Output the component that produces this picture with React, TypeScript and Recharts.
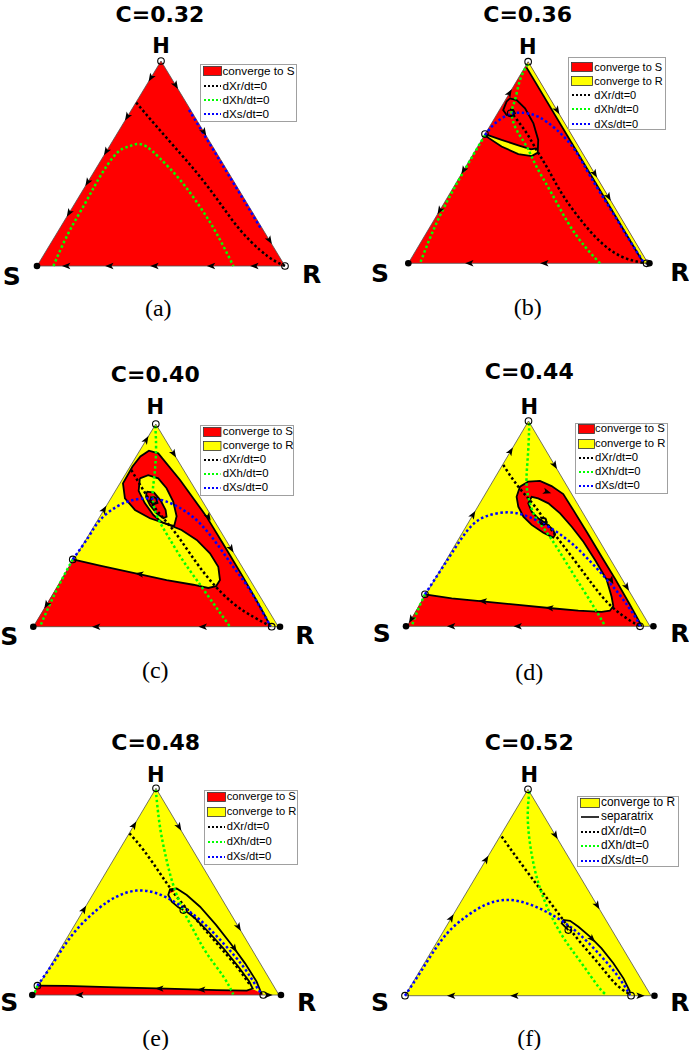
import React from 'react';
import { ComposedChart, XAxis, YAxis, Area, Line, Scatter } from 'recharts';

type P = [number, number];
// x, y, flow direction (dx, dy)
type Arrow = [number, number, number, number];

const RED = '#ff0000';
const YELLOW = '#ffff00';
const GREEN = '#00ff00';
const BLUE = '#0000ff';

// simplex in plot units: S=(0,0), R=(1,0), H=(0.5,1)
const TRIANGLE: P[] = [[0, 0], [1, 0], [0.5, 1], [0, 0]];

// ---- (a) C=0.32
const aDXr: P[] = [[0.4, 0.797], [0.483, 0.68], [0.577, 0.55], [0.657, 0.436], [0.738, 0.306], [0.819, 0.176], [0.899, 0.078], [0.953, 0.029], [1, 0]];
const aDXh: P[] = [[0.066, 0], [0.126, 0.159], [0.194, 0.306], [0.254, 0.436], [0.321, 0.55], [0.368, 0.582], [0.402, 0.595], [0.442, 0.582], [0.496, 0.525], [0.577, 0.42], [0.657, 0.289], [0.724, 0.159], [0.792, 0]];
const aDXs: P[] = [[0.613, 0.761], [0.76, 0.4685], [0.906, 0.176]];
const aArrows: Arrow[] = [
  [0.46, 0.92, -0.5, -1], [0.365, 0.73, -0.5, -1], [0.28, 0.56, -0.5, -1], [0.205, 0.41, -0.5, -1], [0.13, 0.26, -0.5, -1],
  [0.5585, 0.883, 0.5, -1], [0.6725, 0.655, 0.5, -1], [0.937, 0.127, 0.5, -1],
  [0.12, 0, -1, 0], [0.294, 0, -1, 0], [0.476, 0, -1, 0], [0.704, 0, -1, 0], [0.879, 0, -1, 0],
];
const aOpen: P[] = [[0.5, 1], [1, 0]];
const aFilled: P[] = [[0, 0]];

// ---- (b) C=0.36
const bStrip: P[] = [[0.5, 1], [1, 0], [0.982, 0], [0.493, 0.972], [0.5, 1]];
const bBand: P[] = [[0.32, 0.641], [0.389, 0.612], [0.459, 0.585], [0.512, 0.565], [0.534, 0.57], [0.54, 0.549], [0.515, 0.532], [0.459, 0.542], [0.389, 0.579], [0.327, 0.628], [0.32, 0.641]];
const bEdgeSep: P[] = [[0.493, 0.972], [0.982, 0]];
const bBandTop: P[] = [[0.32, 0.641], [0.389, 0.612], [0.459, 0.585], [0.512, 0.565], [0.534, 0.57]];
const bSpiral: P[] = [[0.32, 0.641], [0.327, 0.628], [0.389, 0.579], [0.459, 0.542], [0.515, 0.532], [0.54, 0.549], [0.542, 0.612], [0.522, 0.694], [0.487, 0.769], [0.452, 0.81], [0.424, 0.818], [0.41, 0.802], [0.396, 0.76], [0.41, 0.736], [0.431, 0.731], [0.445, 0.744], [0.438, 0.76], [0.424, 0.764]];
const bDXr: P[] = [[0.438, 0.736], [0.494, 0.645], [0.535, 0.562], [0.577, 0.479], [0.64, 0.347], [0.709, 0.231], [0.793, 0.116], [0.89, 0.033], [0.99, 0]];
const bDXh1: P[] = [[0.498, 0.988], [0.466, 0.909], [0.445, 0.81], [0.431, 0.744], [0.452, 0.661], [0.494, 0.579], [0.535, 0.479], [0.598, 0.347], [0.668, 0.198], [0.737, 0.083], [0.8, 0]];
const bDXh2: P[] = [[0.32, 0.636], [0.195, 0.38], [0.111, 0.182], [0.049, 0]];
const bDXs: P[] = [[0.32, 0.636], [0.362, 0.694], [0.417, 0.736], [0.473, 0.747], [0.542, 0.727], [0.62, 0.661], [0.695, 0.562], [0.76, 0.43], [0.846, 0.264], [0.922, 0.116], [0.98, 0.008]];
const bArrows: Arrow[] = [
  [0.4215, 0.843, 0.5, 1], [0.2315, 0.463, -0.5, -1], [0.132, 0.264, -0.5, -1],
  [0.62, 0.76, 0.5, -1], [0.777, 0.446, 0.5, -1], [0.8345, 0.331, 0.5, -1],
  [0.257, 0, -1, 0], [0.57, 0, -1, 0],
];
const bOpen: P[] = [[0.5, 1], [0.32, 0.641], [0.427, 0.744], [0.994, 0]];
const bFilled: P[] = [[0, 0], [1.006, 0]];

// ---- (c) C=0.40
const cRed: P[] = [[0, 0], [0.161, 0.332], [0.272, 0.301], [0.408, 0.266], [0.544, 0.23], [0.653, 0.207], [0.714, 0.191], [0.746, 0.2], [0.762, 0.23], [0.755, 0.296], [0.721, 0.362], [0.667, 0.428], [0.605, 0.477], [0.544, 0.507], [0.476, 0.535], [0.415, 0.576], [0.374, 0.633], [0.366, 0.707], [0.405, 0.79], [0.437, 0.84], [0.472, 0.868], [0.51, 0.855], [0.599, 0.724], [0.707, 0.543], [0.79, 0.378], [0.855, 0.247], [0.91, 0.132], [0.948, 0.049], [0.968, 0], [0, 0]];
const cHole: P[] = [[0.435, 0.732], [0.469, 0.748], [0.51, 0.732], [0.544, 0.683], [0.571, 0.617], [0.585, 0.545], [0.575, 0.497], [0.555, 0.502], [0.525, 0.515], [0.49, 0.551], [0.455, 0.61], [0.43, 0.67], [0.435, 0.732]];
const cInner: P[] = [[0.463, 0.666], [0.493, 0.661], [0.52, 0.622], [0.54, 0.576], [0.544, 0.543], [0.531, 0.535], [0.503, 0.559], [0.476, 0.6], [0.46, 0.641], [0.463, 0.666]];
const cCore: P[] = [[0.478, 0.64], [0.5, 0.635], [0.507, 0.61], [0.49, 0.603], [0.478, 0.62], [0.485, 0.632]];
const cDXr: P[] = [[0.4, 0.773], [0.449, 0.674], [0.503, 0.576], [0.571, 0.477], [0.639, 0.362], [0.721, 0.23], [0.816, 0.115], [0.898, 0.049], [0.966, 0.003]];
const cDXh1: P[] = [[0.498, 0.99], [0.501, 0.872], [0.494, 0.74], [0.487, 0.641], [0.506, 0.543], [0.551, 0.444], [0.605, 0.337], [0.667, 0.23], [0.735, 0.115], [0.803, 0]];
const cDXh2: P[] = [[0.161, 0.332], [0.095, 0.181], [0.027, 0]];
const cDXs: P[] = [[0.161, 0.332], [0.226, 0.444], [0.272, 0.526], [0.34, 0.592], [0.408, 0.625], [0.476, 0.633], [0.544, 0.617], [0.612, 0.576], [0.68, 0.51], [0.748, 0.411], [0.816, 0.296], [0.884, 0.181], [0.939, 0.066], [0.969, 0.003]];
const cArrows: Arrow[] = [
  [0.46, 0.92, 0.5, 1], [0.288, 0.576, 0.5, 1], [0.055, 0.11, -0.5, -1],
  [0.5725, 0.855, 0.5, -1], [0.714, 0.543, 0.5, -1], [0.807, 0.386, 0.5, -1],
  [0.259, 0, -1, 0], [0.694, 0, -1, 0], [0.435, 0.26, -1, 0.2],
];
const cOpen: P[] = [[0.5, 1], [0.161, 0.332], [0.49, 0.625], [0.973, 0]];
const cFilled: P[] = [[0, 0], [1.007, 0]];

// ---- (d) C=0.44
const dRed: P[] = [[0, 0], [0.074, 0.156], [0.184, 0.136], [0.321, 0.12], [0.458, 0.104], [0.595, 0.088], [0.705, 0.076], [0.801, 0.07], [0.835, 0.076], [0.849, 0.099], [0.842, 0.144], [0.822, 0.226], [0.774, 0.323], [0.726, 0.412], [0.678, 0.485], [0.63, 0.55], [0.582, 0.599], [0.54, 0.623], [0.513, 0.631], [0.499, 0.599], [0.513, 0.558], [0.54, 0.526], [0.575, 0.498], [0.602, 0.469], [0.609, 0.445], [0.602, 0.432], [0.561, 0.456], [0.513, 0.494], [0.479, 0.534], [0.458, 0.583], [0.451, 0.631], [0.465, 0.68], [0.499, 0.705], [0.547, 0.708], [0.595, 0.683], [0.643, 0.644], [0.684, 0.567], [0.743, 0.453], [0.801, 0.339], [0.859, 0.226], [0.914, 0.112], [0.952, 0.031], [0.966, 0], [0, 0]];
const dCore: P[] = [[0.548, 0.53], [0.57, 0.525], [0.575, 0.505], [0.56, 0.497], [0.548, 0.51], [0.555, 0.52]];
const dDXr: P[] = [[0.396, 0.786], [0.458, 0.68], [0.527, 0.583], [0.595, 0.469], [0.678, 0.339], [0.76, 0.209], [0.842, 0.096], [0.925, 0.023], [0.959, 0.002]];
const dDXh1: P[] = [[0.503, 0.989], [0.499, 0.859], [0.492, 0.729], [0.499, 0.631], [0.527, 0.534], [0.568, 0.469], [0.623, 0.372], [0.691, 0.242], [0.76, 0.112], [0.815, 0.002]];
const dDXh2: P[] = [[0.074, 0.156], [0.045, 0.08], [0.019, 0]];
const dDXs: P[] = [[0.074, 0.156], [0.175, 0.339], [0.25, 0.469], [0.321, 0.534], [0.417, 0.555], [0.499, 0.534], [0.582, 0.485], [0.678, 0.404], [0.774, 0.291], [0.87, 0.161], [0.938, 0.047], [0.959, 0.002]];
const dArrows: Arrow[] = [
  [0.4255, 0.851, 0.5, 1], [0.271, 0.542, 0.5, 1], [0.018, 0.036, -0.5, -1],
  [0.607, 0.786, 0.5, -1], [0.9035, 0.193, 0.5, -1],
  [0.184, 0, -1, 0], [0.458, 0, -1, 0], [0.314, 0.122, -1, 0.1], [0.588, 0.089, -1, 0.1],
  [0.575, 0.655, 1, -0.4], [0.84, 0.226, 0.45, -1],
];
const dOpen: P[] = [[0.5, 1], [0.074, 0.156], [0.561, 0.51], [0.959, 0]];
const dFilled: P[] = [[-0.004, 0], [1.014, 0]];

// ---- (e) C=0.48
const eRed: P[] = [[0, 0], [0.018, 0.045], [0.137, 0.044], [0.34, 0.037], [0.543, 0.031], [0.747, 0.024], [0.869, 0.021], [0.896, 0.027], [0.916, 0.016], [0.936, 0], [0, 0]];
const eTip: P[] = [[0.557, 0.511], [0.584, 0.515], [0.572, 0.5], [0.553, 0.492], [0.557, 0.511]];
const eSep1: P[] = [[0.018, 0.045], [0.137, 0.044], [0.34, 0.037], [0.543, 0.031], [0.747, 0.024], [0.869, 0.021], [0.893, 0.031], [0.879, 0.065], [0.835, 0.137], [0.774, 0.226], [0.713, 0.306], [0.659, 0.371], [0.625, 0.403]];
const eSep2: P[] = [[0.93, 0.003], [0.909, 0.065], [0.862, 0.153], [0.808, 0.242], [0.744, 0.339], [0.679, 0.427], [0.625, 0.484], [0.584, 0.515], [0.557, 0.511], [0.55, 0.484], [0.564, 0.452], [0.591, 0.424], [0.611, 0.411]];
const eDXr: P[] = [[0.392, 0.782], [0.449, 0.702], [0.516, 0.589], [0.584, 0.476], [0.665, 0.363], [0.747, 0.25], [0.828, 0.137], [0.882, 0.048]];
const eDXh1: P[] = [[0.499, 0.992], [0.503, 0.944], [0.516, 0.815], [0.537, 0.685], [0.564, 0.556], [0.604, 0.427], [0.652, 0.315], [0.706, 0.202], [0.774, 0.089], [0.814, 0.003]];
const eDXh2: P[] = [[0.018, 0.045], [0.003, 0]];
const eDXs: P[] = [[0.018, 0.045], [0.09, 0.169], [0.164, 0.298], [0.259, 0.411], [0.34, 0.476], [0.421, 0.505], [0.503, 0.492], [0.584, 0.444], [0.679, 0.363], [0.774, 0.25], [0.855, 0.137], [0.909, 0.04], [0.93, 0.003]];
const eArrows: Arrow[] = [
  [0.41, 0.82, 0.5, 1], [0.206, 0.412, 0.5, 1],
  [0.593, 0.815, 0.5, -1], [0.835, 0.33, 0.5, -1],
  [0.191, 0, -1, 0], [0.516, 0.031, -1, 0], [0.686, 0.026, -1, 0],
  [0.818, 0.226, 0.55, -1], [0.955, 0, 1, 0],
];
const eOpen: P[] = [[0.5, 1], [0.018, 0.045], [0.611, 0.411], [0.936, 0]];
const eFilled: P[] = [[-0.003, 0], [1.008, 0]];

// ---- (f) C=0.52
const fSep: P[] = [[0.664, 0.318], [0.637, 0.351], [0.644, 0.367], [0.671, 0.363], [0.705, 0.334], [0.752, 0.286], [0.799, 0.229], [0.847, 0.157], [0.888, 0.084], [0.915, 0.019]];
const fDXr: P[] = [[0.393, 0.771], [0.461, 0.658], [0.542, 0.528], [0.623, 0.399], [0.705, 0.27], [0.786, 0.157], [0.854, 0.06], [0.908, 0.011]];
const fDXh: P[] = [[0.505, 0.989], [0.499, 0.868], [0.508, 0.738], [0.528, 0.609], [0.556, 0.496], [0.596, 0.383], [0.65, 0.27], [0.718, 0.157], [0.786, 0.044], [0.82, 0.003]];
const fDXs: P[] = [[0, 0], [0.068, 0.124], [0.149, 0.27], [0.23, 0.367], [0.325, 0.439], [0.42, 0.464], [0.515, 0.439], [0.61, 0.383], [0.705, 0.302], [0.799, 0.189], [0.867, 0.092], [0.915, 0.003]];
const fArrows: Arrow[] = [
  [0.329, 0.658, 0.5, 1], [0.1875, 0.375, 0.5, 1],
  [0.6105, 0.779, 0.5, -1], [0.7805, 0.439, 0.5, -1],
  [0.19, 0, -1, 0], [0.447, 0, -1, 0], [0.76, 0.276, 0.8, -1], [0.955, 0, 1, 0],
];
const fOpen: P[] = [[0.5, 1], [0, 0], [0.664, 0.318], [0.919, 0]];
const fFilled: P[] = [[1.014, 0]];

type LegendKey = 'S' | 'R' | 'sep' | 'r' | 'h' | 's';
const LEGEND_ITEMS: Record<LegendKey, { label: string; color: string; kind: 'patch' | 'solid' | 'dots' }> = {
  S: { label: 'converge to S', color: RED, kind: 'patch' },
  R: { label: 'converge to R', color: YELLOW, kind: 'patch' },
  sep: { label: 'separatrix', color: '#000', kind: 'solid' },
  r: { label: 'dXr/dt=0', color: '#000', kind: 'dots' },
  h: { label: 'dXh/dt=0', color: GREEN, kind: 'dots' },
  s: { label: 'dXs/dt=0', color: BLUE, kind: 'dots' },
};

type Panel = {
  title: string;
  caption: string;
  bg: string;
  regions: { pts: P[]; color: string }[];
  seps: P[][];
  dXr: P[][];
  dXh: P[][];
  dXs: P[][];
  arrows: Arrow[];
  open: P[];
  filled: P[];
  legend: LegendKey[];
};

const PANELS: Panel[] = [
  { title: 'C=0.32', caption: '(a)', bg: RED, regions: [], seps: [], dXr: [aDXr], dXh: [aDXh], dXs: [aDXs], arrows: aArrows, open: aOpen, filled: aFilled, legend: ['S', 'r', 'h', 's'] },
  { title: 'C=0.36', caption: '(b)', bg: RED, regions: [{ pts: bStrip, color: YELLOW }, { pts: bBand, color: YELLOW }], seps: [bEdgeSep, bBandTop, bSpiral], dXr: [bDXr], dXh: [bDXh1, bDXh2], dXs: [bDXs], arrows: bArrows, open: bOpen, filled: bFilled, legend: ['S', 'R', 'r', 'h', 's'] },
  { title: 'C=0.40', caption: '(c)', bg: YELLOW, regions: [{ pts: cRed, color: RED }, { pts: cHole, color: YELLOW }, { pts: cInner, color: RED }], seps: [cRed.slice(1, -1), cHole, cInner, cCore], dXr: [cDXr], dXh: [cDXh1, cDXh2], dXs: [cDXs], arrows: cArrows, open: cOpen, filled: cFilled, legend: ['S', 'R', 'r', 'h', 's'] },
  { title: 'C=0.44', caption: '(d)', bg: YELLOW, regions: [{ pts: dRed, color: RED }], seps: [dRed.slice(1, -1), dCore], dXr: [dDXr], dXh: [dDXh1, dDXh2], dXs: [dDXs], arrows: dArrows, open: dOpen, filled: dFilled, legend: ['S', 'R', 'r', 'h', 's'] },
  { title: 'C=0.48', caption: '(e)', bg: YELLOW, regions: [{ pts: eRed, color: RED }, { pts: eTip, color: RED }], seps: [eSep1, eSep2], dXr: [eDXr], dXh: [eDXh1, eDXh2], dXs: [eDXs], arrows: eArrows, open: eOpen, filled: eFilled, legend: ['S', 'R', 'r', 'h', 's'] },
  { title: 'C=0.52', caption: '(f)', bg: YELLOW, regions: [], seps: [fSep], dXr: [fDXr], dXh: [fDXh], dXs: [fDXs], arrows: fArrows, open: fOpen, filled: fFilled, legend: ['R', 'sep', 'r', 'h', 's'] },
];

// page layout (px): chart box, triangle corners, text anchors, legend box
const BOX_W = 344;
const BOX_H = 350;
const PAD = 0.1;
const LAYOUT = [
  { box: [0, 0], sx: 37, rx: 285, base: 266, hy: 61, title: [160, 15], H: [161, 46], S: [11.7, 275.7], R: [311.7, 274.3], cap: [158.3, 308.3],
    lg: { x: 199.5, y: 64, w: 97, h: 58, first: 6.3, pitch: 14.3, font: 11.7, sw: 19, tx: 23 } },
  { box: [345, 0], sx: 408.3, rx: 648, base: 263.3, hy: 61.7, title: [527.7, 15], H: [527.7, 46.7], S: [380, 272.7], R: [680, 271.7], cap: [527.7, 307.3],
    lg: { x: 567.5, y: 56.5, w: 98.5, h: 73, first: 9.2, pitch: 14.25, font: 11, sw: 22, tx: 26.8 } },
  { box: [0, 350], sx: 33.3, rx: 278.3, base: 626.7, hy: 424, title: [155.3, 375], H: [155.3, 406.7], S: [9.2, 636], R: [305, 635], cap: [155.3, 670],
    lg: { x: 200, y: 425, w: 93.5, h: 71, first: 5.8, pitch: 14.15, font: 11.4, sw: 18.5, tx: 22.7 } },
  { box: [345, 350], sx: 407, rx: 650, base: 626.3, hy: 421, title: [529.3, 371.7], H: [529.3, 406.7], S: [381.7, 632.7], R: [680, 632.7], cap: [529.3, 671.7],
    lg: { x: 575, y: 422.5, w: 93, h: 71, first: 5.8, pitch: 14.2, font: 11.3, sw: 17, tx: 20 } },
  { box: [0, 700], sx: 33, rx: 279, base: 995, hy: 788.3, title: [155.7, 743.3], H: [155.7, 775], S: [9.2, 1001.7], R: [306.7, 1001.7], cap: [155.7, 1038.3],
    lg: { x: 204, y: 790, w: 94, h: 75, first: 6, pitch: 15, font: 11.2, sw: 19, tx: 22.7 } },
  { box: [345, 700], sx: 405, rx: 651, base: 995.7, hy: 789.3, title: [529.3, 743.3], H: [529.3, 775], S: [380, 1001.7], R: [680, 1001.7], cap: [529.3, 1038.3],
    lg: { x: 577, y: 795.7, w: 101.5, h: 71, first: 6, pitch: 14.6, font: 11.9, sw: 20, tx: 24 } },
];

const toPts = (arr: P[]) => arr.map(([x, y]) => ({ x, y }));
const toArrows = (arr: Arrow[]) => arr.map(([x, y, dx, dy]) => ({ x, y, dx, dy }));

const DOTS = { strokeWidth: 2.5, strokeDasharray: '2.5 2.5' };
const SANS = '"DejaVu Sans", sans-serif';

function Txt({ at, size, family, bold, children }: { at: number[]; size: number; family: string; bold?: boolean; children: React.ReactNode }) {
  return (
    <div style={{ position: 'absolute', left: at[0], top: at[1], transform: 'translate(-50%, -50%)', fontSize: size, fontFamily: family, fontWeight: bold ? 'bold' : 'normal', lineHeight: 1, whiteSpace: 'nowrap', color: '#000' }}>
      {children}
    </div>
  );
}

function LegendBox({ keys, lg }: { keys: LegendKey[]; lg: any }) {
  return (
    <div style={{ position: 'absolute', left: lg.x, top: lg.y, width: lg.w, height: lg.h, border: '1px solid #a0a0a0', background: '#fff', boxSizing: 'border-box', fontFamily: '"Liberation Sans", Arial, sans-serif', fontSize: lg.font }}>
      {keys.map((k, i) => {
        const it = LEGEND_ITEMS[k];
        const cy = lg.first + i * lg.pitch;
        return (
          <React.Fragment key={k}>
            <svg style={{ position: 'absolute', left: 1, top: cy - 6 }} width={lg.sw + 2} height={12}>
              {it.kind === 'patch' ? (
                <rect x={1.5} y={1.5} width={lg.sw - 1} height={9} fill={it.color} stroke="#333" strokeWidth={0.8} />
              ) : (
                <line x1={2} y1={6} x2={lg.sw} y2={6} stroke={it.color} strokeWidth={it.kind === 'dots' ? 2 : 1.6} strokeDasharray={it.kind === 'dots' ? '2 2' : undefined} />
              )}
            </svg>
            <div style={{ position: 'absolute', left: lg.tx - 1, top: cy, transform: 'translateY(-50%)', lineHeight: 1, whiteSpace: 'nowrap' }}>{it.label}</div>
          </React.Fragment>
        );
      })}
    </div>
  );
}

function Ternary({ p, L }: { p: Panel; L: (typeof LAYOUT)[number] }) {
  const W = L.rx - L.sx;
  const H = L.base - L.hy;
  const margin = {
    left: L.sx - L.box[0] - PAD * W,
    right: L.box[0] + BOX_W - L.rx - PAD * W,
    top: L.hy - L.box[1] - PAD * H,
    bottom: L.box[1] + BOX_H - L.base - PAD * H,
  };
  const arrowShape = (props: any) => {
    const { cx, cy, payload } = props;
    if (cx == null || cy == null) return <g />;
    const ang = (Math.atan2(-payload.dy * H, payload.dx * W) * 180) / Math.PI;
    return <path d="M4.8,0 L-3.6,-3.2 L-1.6,0 L-3.6,3.2 Z" fill="#000" transform={`translate(${cx},${cy}) rotate(${ang})`} />;
  };
  const openShape = (props: any) => (props.cx == null ? <g /> : <circle cx={props.cx} cy={props.cy} r={3.3} fill="none" stroke="#000" strokeWidth={1.1} />);
  const filledShape = (props: any) => (props.cx == null ? <g /> : <circle cx={props.cx} cy={props.cy} r={3.3} fill="#000" />);

  const nullcline = (arr: P[], color: string, key: string) => (
    <Line key={key} data={toPts(arr)} dataKey="y" type="natural" stroke={color} {...DOTS} dot={false} activeDot={false} isAnimationActive={false} />
  );

  return (
    <div style={{ position: 'absolute', left: L.box[0], top: L.box[1], width: BOX_W, height: BOX_H }}>
      <ComposedChart width={BOX_W} height={BOX_H} margin={margin}>
        <XAxis type="number" dataKey="x" domain={[-PAD, 1 + PAD]} hide />
        <YAxis type="number" dataKey="y" domain={[-PAD, 1 + PAD]} hide />
        <Area data={toPts(TRIANGLE)} dataKey="y" type="linear" fill={p.bg} fillOpacity={1} stroke="none" isAnimationActive={false} activeDot={false} />
        {p.regions.map((r, i) => (
          <Area key={'r' + i} data={toPts(r.pts)} dataKey="y" type="linear" fill={r.color} fillOpacity={1} stroke="none" isAnimationActive={false} activeDot={false} />
        ))}
        <Line data={toPts(TRIANGLE)} dataKey="y" type="linear" stroke="#505050" strokeWidth={0.8} dot={false} activeDot={false} isAnimationActive={false} />
        {p.seps.map((s, i) => (
          <Line key={'s' + i} data={toPts(s)} dataKey="y" type="linear" stroke="#000" strokeWidth={1.8} dot={false} activeDot={false} isAnimationActive={false} />
        ))}
        {p.dXr.map((s, i) => nullcline(s, '#000', 'k' + i))}
        {p.dXh.map((s, i) => nullcline(s, GREEN, 'g' + i))}
        {p.dXs.map((s, i) => nullcline(s, BLUE, 'b' + i))}
        <Scatter data={toArrows(p.arrows)} dataKey="y" shape={arrowShape} isAnimationActive={false} />
        <Scatter data={toPts(p.open)} dataKey="y" shape={openShape} isAnimationActive={false} />
        <Scatter data={toPts(p.filled)} dataKey="y" shape={filledShape} isAnimationActive={false} />
      </ComposedChart>
    </div>
  );
}

export default function App() {
  return (
    <div style={{ position: 'absolute', left: 0, top: 0, width: 689, height: 1050, background: '#fff', overflow: 'hidden' }}>
      {PANELS.map((p, i) => {
        const L = LAYOUT[i];
        return (
          <React.Fragment key={p.caption}>
            <Ternary p={p} L={L} />
            <Txt at={L.title} size={22} family={SANS} bold>{p.title}</Txt>
            <Txt at={L.H} size={21} family={SANS} bold>H</Txt>
            <Txt at={L.S} size={25} family={SANS} bold>S</Txt>
            <Txt at={L.R} size={25} family={SANS} bold>R</Txt>
            <Txt at={L.cap} size={24} family='"Liberation Serif", serif'>{p.caption}</Txt>
            <LegendBox keys={p.legend} lg={L.lg} />
          </React.Fragment>
        );
      })}
    </div>
  );
}
